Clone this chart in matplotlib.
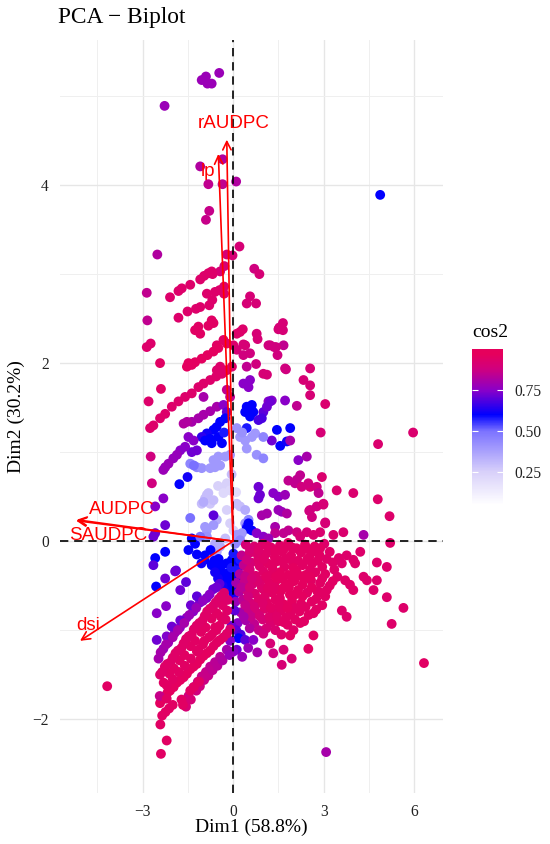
import numpy as np
import matplotlib
matplotlib.use("Agg")
import matplotlib.pyplot as plt
from matplotlib.colors import LinearSegmentedColormap, Normalize

# individuals: (Dim1, Dim2, cos2)
outliers = [
    (-1.04, 5.18, .78), (-0.90, 5.22, .78), (-0.85, 5.14, .78), (-0.71, 5.14, .78), (-0.46, 5.26, .78),
    (-2.27, 4.89, .78), (-1.09, 4.21, .82), (-0.35, 4.29, .82), (-0.82, 4.01, .85), (-0.35, 4.01, .85),
    (0.10, 4.04, .82), (-0.79, 3.71, .86), (-0.90, 3.61, .86), (-2.51, 3.22, .82), (-0.21, 3.22, .9),
    (-0.02, 3.21, .9), (0.21, 3.31, .9), (0.70, 3.06, .88), (0.87, 3.00, .9), (4.87, 3.89, .6),
    (5.96, 1.22, .92), (4.80, 1.09, .92), (6.32, -1.37, .95), (3.08, -2.37, .8), (-4.17, -1.63, .95),
]

pts_upper = [
    (-0.29, 3.09, .9), (-0.43, 3.03, .9), (-1.09, 2.94, .93), (-0.96, 2.98, .93), (-0.82, 3.01, .93),
    (-0.71, 3.03, .93), (-0.68, 3.00, .93), (-1.42, 2.88, .93), (-1.70, 2.84, .93), (-1.81, 2.81, .93),
    (-2.09, 2.74, .93), (-2.86, 2.79, .85), (-0.87, 2.78, .93), (-0.60, 2.80, .93), (-0.45, 2.82, .93),
    (-0.30, 2.86, .93), (-0.30, 2.78, .93), (0.56, 2.75, .9), (0.45, 2.67, .9), (0.76, 2.67, .9),
    (-0.69, 2.71, .93), (-0.79, 2.65, .93), (-1.09, 2.63, .93), (-1.23, 2.61, .93), (-1.51, 2.58, .93),
    (-1.81, 2.51, .93), (-2.84, 2.48, .85), (-0.71, 2.48, .95), (-0.65, 2.45, .95), (-0.82, 2.42, .95),
    (-1.15, 2.41, .95), (-1.26, 2.37, .95), (-1.09, 2.33, .95), (0.23, 2.35, .93), (0.12, 2.33, .93),
    (0.32, 2.38, .93), (0.78, 2.33, .9), (0.81, 2.27, .9), (1.65, 2.45, .9), (1.53, 2.40, .9),
    (1.65, 2.37, .9), (1.50, 2.38, .9), (1.67, 2.20, .85), (1.17, 2.20, .88), (1.36, 2.18, .88),
    (-2.73, 2.22, .93), (-2.86, 2.18, .93), (-0.54, 2.20, .95), (-0.32, 2.26, .95), (-0.21, 2.22, .95),
    (0.01, 2.20, .93), (0.34, 2.21, .9), (-2.42, 2.00, .95), (-1.48, 2.00, .96), (-1.26, 2.01, .96),
    (-1.04, 2.05, .96), (-0.85, 2.09, .96), (-0.65, 2.13, .96), (-0.49, 2.17, .96), (-1.53, 1.96, .96),
    (-1.37, 1.98, .96), (0.40, 2.20, .9), (0.12, 2.15, .9), (0.34, 2.09, .88), (0.56, 2.11, .88),
    (0.76, 1.99, .88), (0.45, 1.96, .85), (1.23, 2.20, .88), (1.42, 2.18, .88), (1.47, 2.09, .88),
    (1.75, 1.93, .88), (1.12, 1.87, .9), (1.00, 1.88, .9), (2.33, 1.81, .9), (2.55, 1.75, .9),
    (1.72, 1.94, .88), (2.55, 1.94, .9), (2.55, 1.64, .9), (2.11, 1.52, .85), (3.05, 1.54, .92),
    (2.90, 1.22, .9), (-1.15, 1.73, .93), (-0.98, 1.77, .93), (-0.76, 1.81, .93), (-0.56, 1.85, .93),
    (-0.37, 1.88, .93), (-0.21, 1.92, .93), (-0.04, 1.96, .93), (-0.54, 1.92, .93), (-0.43, 1.96, .93),
    (-2.39, 1.71, .95), (-1.37, 1.66, .93), (-1.59, 1.62, .93), (-1.81, 1.57, .93), (-2.03, 1.51, .93),
    (-2.25, 1.43, .93), (-2.42, 1.38, .93), (-2.64, 1.30, .93), (-2.75, 1.27, .93), (-2.80, 1.57, .93),
    (-0.98, 1.62, .8), (-0.21, 1.70, .85), (-0.10, 1.62, .85), (0.34, 1.77, .75), (0.56, 1.81, .75),
    (0.51, 1.73, .75), (1.72, 1.58, .75), (1.17, 1.57, .75), (1.28, 1.58, .75),
]

pts_mid = [
    (-0.54, 1.51, .8), (-0.76, 1.46, .8), (-0.98, 1.42, .8), (-1.15, 1.38, .8), (-1.37, 1.34, .8),
    (-1.53, 1.34, .82), (-1.64, 1.32, .82), (-0.32, 1.53, .75), (-0.21, 1.45, .7), (0.45, 1.51, .6),
    (0.62, 1.53, .6), (0.40, 1.45, .6), (0.67, 1.45, .6), (0.56, 1.40, .6), (0.52, 1.48, .6),
    (1.00, 1.45, .7), (1.12, 1.51, .72), (1.23, 1.57, .72), (0.95, 1.38, .68), (0.84, 1.36, .68),
    (1.45, 1.25, .6), (1.89, 1.27, .6), (1.56, 1.07, .6), (1.78, 1.12, .62), (1.28, 1.13, .72),
    (1.89, 1.13, .8), (2.16, 0.91, .75), (2.44, 0.95, .8), (-0.43, 1.34, .6), (-0.26, 1.38, .6),
    (-0.65, 1.25, .6), (-0.87, 1.21, .62), (-1.04, 1.17, .65), (-0.76, 1.15, .6), (-0.49, 1.17, .6),
    (-0.37, 1.10, .6), (-0.71, 1.10, .6), (-0.93, 1.13, .6), (-0.55, 1.28, .6), (-0.30, 1.22, .58),
    (-1.48, 1.17, .75), (-1.31, 1.13, .75), (-1.20, 1.02, .72), (-1.37, 1.00, .72), (-1.59, 1.06, .75),
    (-1.75, 1.02, .75), (-1.86, 0.97, .77), (-1.98, 0.93, .77), (-2.14, 0.87, .78), (-2.25, 0.83, .78),
    (-2.31, 0.80, .78), (-2.73, 0.95, .88), (-2.69, 0.65, .88), (-2.31, 0.48, .75), (-1.78, 0.64, .6),
    (-1.51, 0.72, .62), (-1.42, 0.87, .45), (-1.20, 0.83, .45), (-1.04, 0.82, .42), (-0.76, 0.82, .4),
    (-0.60, 0.83, .4), (-0.43, 0.85, .4), (-0.65, 0.91, .4), (-0.49, 0.95, .4), (-0.26, 0.95, .4),
    (-0.10, 0.97, .4), (-1.30, 0.85, .5), (0.12, 1.27, .42), (0.23, 1.17, .4), (0.40, 1.13, .4),
    (0.62, 1.17, .4), (0.73, 1.21, .4), (0.45, 1.04, .4), (0.78, 0.97, .42), (1.00, 0.93, .45),
    (1.00, 1.17, .45), (0.45, 1.27, .58), (0.30, 1.22, .42), (-0.21, 0.65, .25), (-0.32, 0.59, .25),
    (-0.10, 0.57, .22), (-0.82, 0.54, .3), (-0.93, 0.48, .3), (-1.04, 0.42, .3), (-0.76, 0.42, .28),
    (-0.50, 0.62, .25), (-0.05, 0.75, .3), (0.10, 0.55, .2), (0.84, 0.61, .72), (0.89, 0.52, .72),
    (0.84, 0.48, .72), (1.33, 0.54, .75), (1.50, 0.50, .75), (1.72, 0.52, .78), (2.11, 0.69, .85),
    (2.22, 0.74, .85), (2.05, 0.65, .85), (2.55, 0.61, .9), (2.27, 0.61, .88), (2.94, 0.72, .92),
    (2.77, 0.61, .88), (2.83, 0.54, .85), (1.83, 0.68, .85), (2.49, 0.65, .88), (3.43, 0.57, .92),
    (3.98, 0.54, .92), (4.79, 0.47, .93), (5.18, 0.28, .93), (5.20, -0.02, .93), (3.05, 0.21, .9),
    (2.99, 0.41, .9), (2.61, 0.27, .88), (2.52, 0.34, .88),
]

pts_origin = [
    (-2.58, 0.39, .75), (-2.25, 0.18, .72), (-2.58, 0.09, .72), (-2.25, -0.12, .6), (-2.58, -0.19, .6),
    (-2.64, -0.27, .7), (-1.89, -0.33, .7), (-1.56, -0.46, .7), (-2.25, -0.42, .72), (-2.55, -0.51, .6),
    (-2.22, -0.73, .75), (-2.53, -0.81, .75), (-0.87, 0.52, .3), (-0.98, 0.44, .35), (-0.65, 0.46, .3),
    (-0.32, 0.54, .22), (-0.21, 0.35, .25), (-0.54, 0.24, .35), (-0.65, 0.18, .4), (-0.87, 0.12, .4),
    (-0.87, 0.05, .42), (-0.65, 0.29, .7), (-1.37, 0.03, .6), (-1.48, -0.10, .6), (-1.26, -0.03, .6),
    (-1.09, 0.05, .5), (-0.93, 0.16, .4), (-1.42, 0.26, .5), (-2.64, 0.05, .72), (-1.92, -0.34, .72),
    (-1.75, -0.55, .72), (-0.93, -0.16, .6), (-0.82, -0.21, .6), (-0.71, -0.27, .6), (-0.54, -0.29, .6),
    (-0.43, -0.33, .6), (-0.32, -0.38, .6), (-0.26, -0.46, .6), (-0.15, -0.49, .6), (-0.10, -0.55, .6),
    (0.07, -0.34, .6), (0.18, -0.29, .6), (0.12, -0.25, .6), (-0.21, -0.25, .6), (-0.04, -0.21, .6),
    (-0.35, -0.50, .62), (-0.50, -0.42, .62), (-0.54, -0.12, .35), (-0.43, -0.06, .35), (-0.60, -0.03, .35),
    (-0.65, -0.18, .4), (-0.26, 0.03, .3), (0.01, 0.12, .25), (-0.10, 0.20, .25), (0.23, 0.05, .35),
    (0.40, 0.20, .4), (0.51, 0.24, .45), (0.45, 0.16, .55), (0.23, 0.39, .3), (0.12, 0.42, .3),
    (0.40, 0.35, .35), (0.51, 0.20, .6), (0.62, 0.12, .6), (0.45, 0.14, .6), (0.29, 0.09, .4),
    (0.12, 0.07, .4), (0.07, -0.03, .45), (0.23, 0.01, .45), (0.95, 0.29, .8), (1.12, 0.31, .8),
    (1.50, 0.35, .78), (1.61, 0.33, .78), (1.78, 0.31, .82), (2.55, 0.35, .88), (2.77, 0.39, .88),
    (2.99, 0.42, .9), (1.39, 0.16, .8), (1.39, 0.09, .85), (1.67, 0.09, .85), (1.83, 0.12, .85),
    (2.11, 0.10, .88), (2.22, 0.05, .9), (2.44, 0.10, .9), (2.66, 0.07, .92), (2.88, 0.10, .92),
    (3.05, 0.20, .9), (3.32, 0.07, .92), (3.65, 0.10, .92), (4.32, 0.07, .8), (0.78, 0.09, .75),
    (1.00, 0.05, .75), (1.17, 0.03, .78), (0.01, -0.14, .58), (0.23, -0.21, .58), (0.12, -0.33, .58),
    (-0.75, -0.10, .6), (-0.62, -0.22, .6), (-0.48, -0.20, .6), (-0.38, -0.27, .6), (-0.20, -0.36, .6),
    (-0.05, -0.40, .6), (0.05, -0.50, .6), (-0.28, -0.56, .62), (-0.60, -0.35, .62), (-1.05, -0.25, .62),
    (-1.20, -0.15, .6), (-0.05, -0.30, .58), (0.25, -0.40, .62), (0.02, -0.62, .62),
]

pts_core = [
    (0.42, -0.04, .9), (0.70, -0.06, .92), (0.98, -0.03, .93), (1.25, -0.07, .94), (1.55, -0.05, .94),
    (1.82, -0.02, .95), (2.10, -0.08, .95), (2.38, -0.04, .95), (2.70, -0.06, .95), (3.02, -0.03, .93),
    (0.28, -0.16, .85), (0.55, -0.13, .9), (0.83, -0.17, .93), (1.10, -0.14, .94), (1.38, -0.18, .95),
    (1.63, -0.12, .95), (1.92, -0.16, .95), (2.25, -0.13, .95), (2.52, -0.18, .95), (2.85, -0.15, .95),
    (3.20, -0.12, .94), (3.50, -0.19, .93), (0.35, -0.27, .85), (0.60, -0.24, .9), (0.88, -0.28, .93),
    (1.15, -0.25, .95), (1.42, -0.23, .95), (1.70, -0.29, .95), (1.98, -0.24, .95), (2.30, -0.27, .95),
    (2.62, -0.25, .95), (2.95, -0.29, .95), (3.30, -0.24, .94), (0.22, -0.37, .82), (0.48, -0.35, .88),
    (0.75, -0.39, .92), (1.00, -0.34, .94), (1.28, -0.37, .95), (1.55, -0.35, .96), (1.83, -0.38, .96),
    (2.10, -0.34, .96), (2.40, -0.38, .96), (2.72, -0.35, .95), (3.05, -0.37, .95), (3.45, -0.40, .94),
    (0.10, -0.47, .8), (0.38, -0.45, .86), (0.65, -0.48, .9), (0.92, -0.44, .93), (1.20, -0.47, .95),
    (1.47, -0.43, .96), (1.75, -0.48, .96), (2.02, -0.45, .96), (2.30, -0.49, .96), (2.58, -0.44, .95),
    (2.88, -0.47, .95), (3.20, -0.50, .95), (0.20, -0.57, .82), (0.45, -0.55, .88), (0.72, -0.59, .92),
    (1.00, -0.54, .94), (1.30, -0.58, .95), (1.58, -0.56, .96), (1.88, -0.60, .96), (2.15, -0.55, .96),
    (2.45, -0.58, .95), (2.78, -0.56, .95), (3.05, -0.62, .95), (0.08, -0.68, .78), (0.33, -0.66, .84),
    (0.60, -0.70, .9), (0.85, -0.65, .93), (1.12, -0.69, .95), (1.40, -0.66, .95), (1.68, -0.71, .96),
    (1.95, -0.67, .96), (2.25, -0.70, .95), (2.60, -0.68, .95), (2.95, -0.72, .95), (0.25, -0.80, .8),
    (0.52, -0.77, .86), (0.80, -0.81, .9), (1.05, -0.76, .93), (1.33, -0.80, .94), (1.60, -0.78, .95),
    (1.90, -0.82, .95), (2.20, -0.79, .95), (2.50, -0.83, .95), (0.15, -0.92, .75), (0.42, -0.89, .8),
    (0.70, -0.93, .85), (0.98, -0.88, .9), (1.25, -0.92, .92), (1.50, -0.90, .94), (1.80, -0.94, .95),
    (0.55, -0.32, .9), (0.85, -0.22, .93), (1.30, -0.30, .95), (1.75, -0.20, .95), (2.15, -0.22, .95),
    (2.55, -0.32, .95), (0.95, -0.52, .93), (1.40, -0.52, .95), (1.85, -0.52, .96), (2.30, -0.62, .96),
    (0.70, -0.12, .92), (1.20, -0.10, .94), (1.70, -0.08, .95), (2.20, -0.10, .95), (2.65, -0.12, .95),
    (0.50, -0.62, .88), (1.05, -0.62, .94), (1.55, -0.64, .95), (2.05, -0.75, .95), (1.20, -0.85, .93),
    (0.60, -0.85, .86), (2.35, -0.42, .96), (1.60, -0.42, .96), (0.80, -0.45, .92), (3.10, -0.55, .95),
    (2.75, -0.65, .95), (3.35, -0.32, .94), (3.60, -0.25, .93),
]

pts_core_fill = [
    (0.56, -0.09, .9), (0.84, -0.10, .93), (1.10, -0.05, .94), (1.40, -0.11, .95), (1.95, -0.07, .95),
    (2.50, -0.09, .95), (2.88, -0.08, .95), (0.45, -0.21, .88), (1.02, -0.20, .94), (1.55, -0.22, .95),
    (2.00, -0.30, .96), (2.45, -0.21, .95), (2.80, -0.22, .95), (3.10, -0.20, .94), (0.40, -0.40, .86),
    (0.62, -0.42, .9), (1.10, -0.40, .95), (1.42, -0.40, .96), (1.95, -0.41, .96), (2.20, -0.39, .96),
    (2.55, -0.40, .96), (2.95, -0.42, .95), (3.30, -0.45, .95), (0.28, -0.52, .84), (0.55, -0.52, .9),
    (1.15, -0.53, .95), (1.65, -0.53, .96), (2.05, -0.60, .96), (2.60, -0.52, .96), (2.90, -0.58, .95),
    (0.40, -0.72, .86), (0.72, -0.74, .9), (0.98, -0.70, .93), (1.25, -0.75, .95), (1.52, -0.72, .95),
    (1.80, -0.75, .96), (2.40, -0.74, .95), (2.75, -0.77, .95), (0.35, -0.85, .8), (0.88, -0.84, .9),
    (1.45, -0.85, .94), (1.75, -0.86, .95), (2.05, -0.88, .95), (2.35, -0.90, .95), (0.55, -0.98, .82),
    (0.85, -1.00, .86), (1.10, -0.98, .9), (1.40, -1.00, .92), (1.60, -1.05, .93), (2.00, -1.00, .94),
]

pts_right_low = [
    (1.67, -0.91, .95), (2.22, -0.92, .95), (2.66, -0.81, .95), (1.89, -1.06, .95), (2.49, -1.21, .95),
    (2.66, -1.06, .95), (1.67, -1.22, .9), (1.94, -1.32, .9), (1.61, -1.39, .9), (1.33, -1.26, .88),
    (1.23, -1.15, .9), (1.00, -1.04, .88), (4.21, -0.12, .93), (3.98, -0.21, .93), (3.76, -0.16, .93),
    (4.04, -0.25, .93), (4.76, -0.24, .93), (5.09, -0.29, .93), (4.32, -0.40, .93), (4.43, -0.44, .93),
    (4.65, -0.55, .93), (4.76, -0.44, .93), (5.09, -0.63, .93), (5.64, -0.75, .93), (5.25, -0.93, .93),
    (3.76, -0.85, .93), (3.60, -0.78, .93), (3.71, -0.44, .94), (3.87, -0.49, .94), (3.98, -0.55, .94),
    (0.05, -0.78, .7), (-0.05, -0.95, .72), (0.10, -1.00, .7), (0.25, -1.05, .68), (0.18, -1.09, .6),
    (0.40, -1.11, .7), (0.67, -1.11, .75), (0.12, -1.22, .72), (0.01, -1.24, .75), (-0.10, -1.12, .75),
    (0.50, -1.20, .78), (0.80, -1.25, .8), (0.30, -1.30, .78),
]

pts_left_bands = [
    (-2.47, -1.32, .8), (-2.31, -1.21, .78), (-2.15, -1.14, .78), (-1.93, -1.03, .77), (-1.76, -0.97, .76),
    (-1.54, -0.86, .76), (-1.32, -0.79, .75), (-1.10, -0.69, .74), (-0.88, -0.64, .74), (-0.66, -0.54, .72),
    (-0.45, -0.48, .7), (-2.53, -1.11, .72), (-2.20, -1.07, .74), (-2.03, -0.96, .72), (-1.75, -0.89, .72),
    (-1.40, -0.72, .72), (-1.20, -0.62, .7),
    (-2.40, -1.25, .8), (-2.22, -1.16, .8), (-2.00, -1.08, .8), (-1.83, -1.00, .8), (-1.62, -0.92, .8),
    (-1.45, -0.83, .78), (-1.22, -0.75, .78), (-1.00, -0.67, .76), (-0.78, -0.60, .75), (-0.55, -0.52, .72),
    (-2.42, -1.50, .93), (-2.26, -1.41, .93), (-2.07, -1.36, .93), (-1.91, -1.26, .94), (-1.71, -1.20, .94),
    (-1.56, -1.10, .94), (-1.37, -1.05, .94), (-1.21, -0.95, .94), (-1.01, -0.89, .94), (-0.86, -0.79, .94),
    (-0.66, -0.73, .93), (-0.48, -0.65, .93), (-0.30, -0.58, .92), (-2.30, -1.59, .95), (-2.11, -1.49, .95),
    (-1.96, -1.43, .95), (-1.77, -1.34, .95), (-1.61, -1.28, .95), (-1.41, -1.18, .95), (-1.26, -1.12, .95),
    (-1.06, -1.02, .95), (-0.91, -0.97, .95), (-0.71, -0.87, .95), (-0.54, -0.81, .95), (-0.35, -0.72, .94),
    (-0.18, -0.66, .93),
    (-2.35, -1.47, .94), (-2.18, -1.38, .94), (-2.00, -1.31, .94), (-1.83, -1.23, .94), (-1.64, -1.15, .94),
    (-1.47, -1.07, .94), (-1.30, -0.99, .94), (-1.12, -0.92, .94), (-0.94, -0.84, .94), (-0.77, -0.76, .94),
    (-0.58, -0.69, .93), (-0.40, -0.62, .93),
    (-2.42, -1.82, .96), (-2.25, -1.74, .96), (-2.09, -1.68, .96), (-1.86, -1.59, .96), (-1.64, -1.53, .96),
    (-1.42, -1.44, .96), (-1.20, -1.38, .96), (-0.98, -1.29, .96), (-0.76, -1.23, .96), (-0.54, -1.14, .95),
    (-0.32, -1.08, .94), (-0.10, -0.99, .92),
    (-2.35, -1.78, .96), (-2.17, -1.70, .96), (-1.97, -1.64, .96), (-1.75, -1.56, .96), (-1.53, -1.49, .96),
    (-1.31, -1.41, .96), (-1.09, -1.33, .96), (-0.87, -1.26, .96), (-0.65, -1.18, .95), (-0.43, -1.11, .95),
    (-0.21, -1.04, .94),
    (-2.20, -1.62, .95), (-2.00, -1.55, .95), (-1.80, -1.47, .95), (-1.60, -1.40, .95), (-1.40, -1.32, .95),
    (-1.20, -1.24, .95), (-1.00, -1.16, .95), (-0.80, -1.08, .95), (-0.60, -0.97, .95), (-0.40, -0.85, .95),
    (-0.20, -0.78, .94),
    (-1.64, -1.82, .88), (-1.48, -1.74, .88), (-1.31, -1.64, .87), (-1.17, -1.58, .87), (-1.04, -1.52, .86),
    (-0.90, -1.47, .86), (-0.76, -1.41, .85), (-0.60, -1.36, .84), (-0.43, -1.30, .83), (-0.21, -1.22, .8),
    (-1.56, -1.86, .9), (-1.40, -1.78, .9), (-1.22, -1.68, .88), (-1.10, -1.63, .88), (-0.96, -1.56, .87),
    (-0.82, -1.51, .86), (-0.68, -1.45, .85), (-0.52, -1.40, .84), (-0.35, -1.34, .82), (-0.12, -1.28, .78),
    (-2.43, -1.74, .86), (-2.20, -1.77, .95), (-2.41, -2.06, .95), (-2.20, -2.24, .95), (-2.39, -2.39, .95),
    (-2.35, -1.96, .95), (-2.24, -1.92, .95), (-2.12, -1.88, .95), (-2.00, -1.84, .95), (-1.71, -1.78, .95),
    (-1.66, -1.84, .95), (-1.42, -1.68, .95), (-1.30, -1.64, .95), (-1.13, -1.58, .95),
    (-0.45, -0.95, .95), (-0.70, -1.05, .95), (-0.25, -0.88, .94), (-0.95, -1.12, .95), (-1.15, -1.22, .95),
    (-0.55, -1.00, .95),
]

# variables (arrow tips) and label positions
var_names = ["rAUDPC", "lp", "AUDPC", "SAUDPC", "dsi"]
var_x = [-0.21, -0.49, -5.18, -5.20, -5.07]
var_y = [4.51, 4.35, 0.24, 0.23, -1.12]
lab_x = [0.03, -0.83, -3.69, -4.14, -4.79]
lab_y = [4.69, 4.15, 0.36, 0.06, -0.95]

pts = np.array(outliers + pts_upper + pts_mid + pts_origin + pts_core + pts_core_fill
               + pts_right_low + pts_left_bands)

serif = ["Liberation Serif", "DejaVu Serif"]
sans = ["Liberation Sans", "DejaVu Sans"]
txt = "#222222"

cmap = LinearSegmentedColormap.from_list("cos2", [
    (0.0, "#FFFFFF"), (0.2105, "#D8D0FA"), (0.4737, "#7B72FF"), (0.5789, "#0000FF"),
    (0.7368, "#8A00C8"), (0.8737, "#D0007E"), (0.9684, "#E6005C"), (1.0, "#E6005C")])
norm = Normalize(vmin=0.05, vmax=1.0)

fig = plt.figure(figsize=(5.5, 8.44), dpi=100)
ax = fig.add_axes([0.1087, 0.0604, 0.6962, 0.8922])

sc = ax.scatter(pts[:, 0], pts[:, 1], c=pts[:, 2], cmap=cmap, norm=norm,
                s=50, linewidths=0, zorder=2)

ax.axhline(0, color="black", lw=1.2, ls=(0, (5, 3.5)), zorder=3)
ax.axvline(0, color="black", lw=1.2, ls=(0, (5, 3.5)), zorder=3)

for name, vx, vy, lx, ly in zip(var_names, var_x, var_y, lab_x, lab_y):
    ax.annotate("", xy=(vx, vy), xytext=(0, 0),
                arrowprops=dict(arrowstyle="->,head_length=0.6,head_width=0.3",
                                color="red", lw=1.2, shrinkA=0, shrinkB=0), zorder=4)
    ax.text(lx, ly, name, color="red", fontsize=13.5, family=sans,
            ha="center", va="center", zorder=5)

ax.set_xlim(-5.74, 6.94)
ax.set_ylim(-2.83, 5.63)
ax.set_xticks([-3, 0, 3, 6])
ax.set_xticklabels(["\u22123", "0", "3", "6"])
ax.set_yticks([-2, 0, 2, 4])
ax.set_yticklabels(["\u22122", "0", "2", "4"])
ax.set_xticks([-4.5, -1.5, 1.5, 4.5], minor=True)
ax.set_yticks([-1, 1, 3, 5], minor=True)
ax.grid(True, which="major", color="#E6E6E6", lw=1.0, zorder=0)
ax.grid(True, which="minor", color="#EFEFEF", lw=0.7, zorder=0)
ax.set_axisbelow(True)
for sp in ax.spines.values():
    sp.set_visible(False)
ax.tick_params(which="both", length=0)
ax.tick_params(axis="x", pad=8, labelsize=11.2, labelcolor=txt)
ax.tick_params(axis="y", pad=8, labelsize=11.2, labelcolor=txt)
for lab in ax.get_xticklabels() + ax.get_yticklabels():
    lab.set_family(serif)

fig.text(0.106, 0.9795, "PCA \u2212 Biplot", family=serif, fontsize=16.8,
         ha="left", va="center", color="black")
fig.text(0.4566, 0.009, "Dim1 (58.8%)", family=serif, fontsize=14,
         ha="center", va="bottom", color="black")
fig.text(0.029, 0.5065, "Dim2 (30.2%)", family=serif, fontsize=14,
         ha="center", va="center", rotation=90, color="black")

cax = fig.add_axes([0.8587, 0.4017, 0.0564, 0.1848])
cb = fig.colorbar(sc, cax=cax)
cb.outline.set_visible(False)
cb.set_ticks([0.25, 0.5, 0.75])
cb.set_ticklabels(["0.25", "0.50", "0.75"])
cax.tick_params(axis="y", direction="in", length=4.3, width=0.8, color="white",
                left=True, right=True, labelleft=False, labelright=True,
                pad=8, labelsize=11.2, labelcolor=txt)
for lab in cax.get_yticklabels():
    lab.set_family(serif)
fig.text(0.858, 0.6007, "cos2", family=serif, fontsize=14, ha="left",
         va="baseline", color="black")

fig.savefig("out.png", dpi=100)
